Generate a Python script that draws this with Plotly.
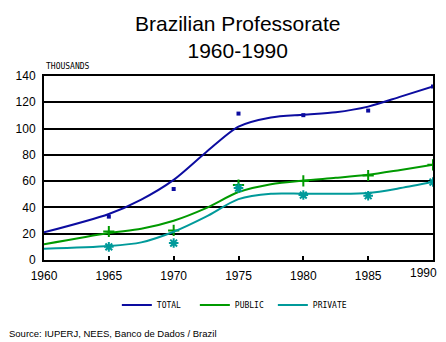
import plotly.graph_objects as go

# Observed data points (thousands)
years = [1960, 1965, 1970, 1975, 1980, 1985, 1990]
total_pts = [20, 33, 54, 111.4, 110.2, 113.7, 132]
public_pts = [11.5, 21.7, 22.5, 57, 60.2, 64.3, 72.4]
private_pts = [8.5, 10, 12.9, 54.7, 49.4, 48.9, 59.3]

# Smoothed trend curves
curve_years = [1960, 1965, 1967.5, 1970, 1972.5, 1975, 1977.5, 1980, 1982.5, 1985, 1987.5, 1990]
total_curve = [21, 35, 46, 61, 82, 101.5, 108.5, 110.6, 112.4, 116.7, 124.3, 132]
public_curve = [11.9, 20.5, 23.8, 29.9, 39.5, 51.7, 57.7, 60.5, 62.5, 64.8, 68.5, 72.4]
private_curve = [8.6, 10.6, 13.4, 21.5, 33, 46.3, 50.4, 50.4, 50.4, 51, 54.7, 59.3]

series_names = ["TOTAL", "PUBLIC", "PRIVATE"]
colors = ["#0c0ca0", "#009a00", "#009a9a"]
symbols = ["square", "cross-thin", "asterisk"]

x_ticks = [1960, 1965, 1970, 1975, 1980, 1985, 1990]
x_tick_labels = ["1960", "1965", "1970", "1975", "1980", "1985", ""]
last_x_label = "1990"  # drawn separately so it stays inside the page, as in the reference
y_ticks = [0, 20, 40, 60, 80, 100, 120, 140]

fig = go.Figure()
for name, curve, pts, col, sym in zip(series_names,
                                      [total_curve, public_curve, private_curve],
                                      [total_pts, public_pts, private_pts],
                                      colors, symbols):
    fig.add_trace(go.Scatter(x=curve_years, y=curve, mode="lines", name=name,
                             line=dict(color=col, width=2, shape="spline", smoothing=0.8),
                             showlegend=True))
    fig.add_trace(go.Scatter(x=years[1:], y=pts[1:], mode="markers", showlegend=False,
                             marker=dict(symbol=sym, size=4 if sym == "square" else 8,
                                         color=col,
                                         line=dict(color=col, width=0 if sym == "square" else 2))))

fig.update_layout(
    width=446, height=342,
    margin=dict(l=44, r=13, t=76, b=82),
    paper_bgcolor="white", plot_bgcolor="white",
    font=dict(family="Liberation Sans, Arial", color="black"),
    xaxis=dict(range=[1960, 1990], tickvals=x_ticks, ticktext=x_tick_labels,
               ticks="inside", ticklen=4,
               tickwidth=2, tickcolor="black", showgrid=False, zeroline=False,
               showline=True, linecolor="black", linewidth=2, mirror=True,
               tickfont=dict(size=12), ticklabelstandoff=4, automargin=False,
               ticklabeloverflow="allow", fixedrange=True),
    yaxis=dict(range=[0, 140], tickvals=y_ticks, showgrid=True, gridcolor="black",
               gridwidth=2, zeroline=False, showline=True, linecolor="black",
               linewidth=2, mirror=True, ticks="", tickfont=dict(size=12),
               ticklabelstandoff=4, automargin=False, fixedrange=True),
    legend=dict(orientation="h", xref="container", yref="container",
                x=0.262, y=1 - 305 / 342, xanchor="left", yanchor="middle",
                font=dict(family="DejaVu Sans Mono", size=8),
                entrywidth=33, bgcolor="rgba(0,0,0,0)"),
    annotations=[
        dict(text="Brazilian Professorate<br>1960-1990", xref="paper", yref="paper",
             x=(237 - 44) / 389, y=1, yshift=76 - 10, xanchor="center", yanchor="top",
             showarrow=False, font=dict(size=21)),
        dict(text="THOUSANDS", xref="paper", yref="paper", x=0, y=1,
             xanchor="left", yanchor="bottom", yshift=3, showarrow=False,
             font=dict(family="DejaVu Sans Mono", size=8)),
        dict(text=last_x_label, xref="x", yref="paper", x=x_ticks[-1], y=0,
             xanchor="right", xshift=6, yanchor="middle", yshift=-12.5,
             showarrow=False, font=dict(size=12)),
        dict(text="Source: IUPERJ, NEES, Banco de Dados / Brazil", xref="paper",
             yref="paper", x=-37 / 389, y=0, yshift=-73, xanchor="left",
             yanchor="middle", showarrow=False, font=dict(size=9.5)),
    ],
)

fig.write_html("out.html")
